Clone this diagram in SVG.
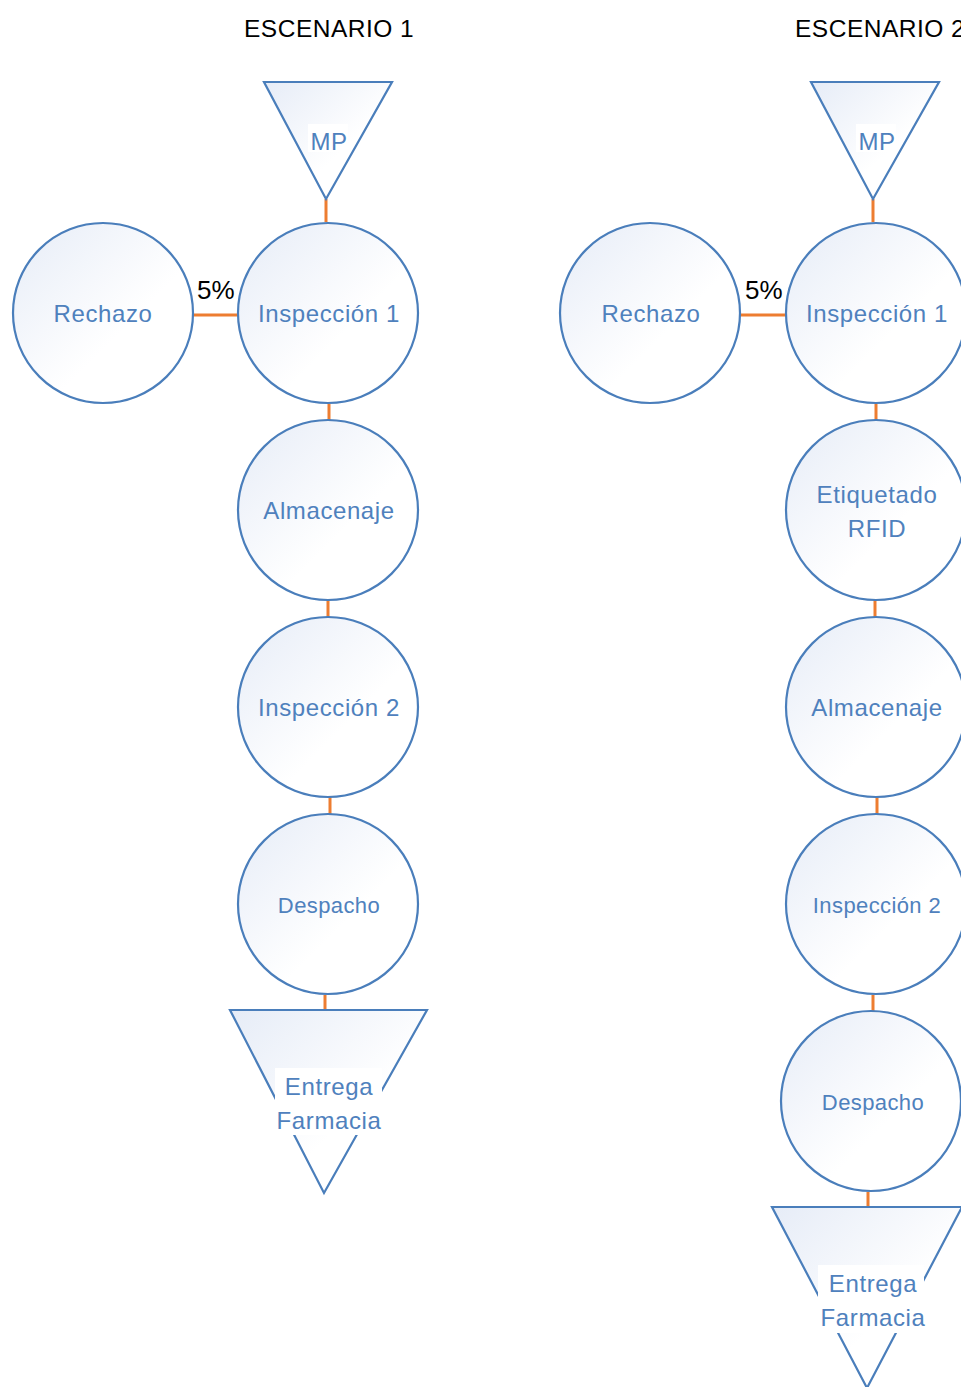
<svg xmlns="http://www.w3.org/2000/svg" width="961" height="1387" viewBox="0 0 961 1387">
  <defs>
    <linearGradient id="shade" x1="0" y1="0" x2="1" y2="1">
      <stop offset="0" stop-color="#e6ecf7"/>
      <stop offset="0.6" stop-color="#ffffff"/>
      <stop offset="1" stop-color="#ffffff"/>
    </linearGradient>
    <style>
      .node { fill: url(#shade); stroke: #4a7ebb; stroke-width: 2.2; }
      .lbl { font-family: "Liberation Sans", Arial, sans-serif; font-size: 24px; fill: #4f81bd; text-anchor: middle; letter-spacing: 0.6px; }
      .sm { font-size: 22px; letter-spacing: 0.4px; }
      .title { font-family: "Liberation Sans", Arial, sans-serif; font-size: 24.5px; fill: #000; letter-spacing: 0.5px; }
      .pct { font-family: "Liberation Sans", Arial, sans-serif; font-size: 26px; fill: #000; }
      .link { stroke: #ed7d31; stroke-width: 3; fill: none; }
      .box { fill: #ffffff; }
    </style>
  </defs>
  <rect width="961" height="1387" fill="#ffffff"/>

  <!-- headings -->
  <text class="title" x="244" y="37">ESCENARIO 1</text>
  <text class="title" x="795" y="37">ESCENARIO 2</text>

  <!-- connectors -->
  <g id="connectors">
    <line class="link" x1="326" y1="199" x2="326" y2="222"/>
    <line class="link" x1="193" y1="315" x2="238" y2="315"/>
    <line class="link" x1="329" y1="404" x2="329" y2="420"/>
    <line class="link" x1="328" y1="600" x2="328" y2="617"/>
    <line class="link" x1="330" y1="797" x2="330" y2="814"/>
    <line class="link" x1="325" y1="995" x2="325" y2="1010"/>

    <line class="link" x1="873" y1="199" x2="873" y2="222"/>
    <line class="link" x1="740" y1="315" x2="786" y2="315"/>
    <line class="link" x1="876" y1="404" x2="876" y2="420"/>
    <line class="link" x1="875" y1="600" x2="875" y2="617"/>
    <line class="link" x1="877" y1="797" x2="877" y2="814"/>
    <line class="link" x1="873" y1="995" x2="873" y2="1011"/>
    <line class="link" x1="868" y1="1192" x2="868" y2="1207"/>

    <text class="pct" x="197" y="299">5%</text>
    <text class="pct" x="745" y="299">5%</text>
  </g>

  <!-- scenario 1 -->
  <g id="s1-mp">
    <polygon class="node" points="264,82 392,82 326,199"/>
    <rect class="box" x="308" y="124" width="40" height="28"/>
    <text class="lbl" x="329" y="150">MP</text>
  </g>
  <g id="s1-rechazo">
    <circle class="node" cx="103" cy="313" r="90"/>
    <text class="lbl" x="103" y="322">Rechazo</text>
  </g>
  <g id="s1-inspeccion1">
    <circle class="node" cx="328" cy="313" r="90"/>
    <text class="lbl" x="329" y="322">Inspección 1</text>
  </g>
  <g id="s1-almacenaje">
    <circle class="node" cx="328" cy="510" r="90"/>
    <text class="lbl" x="329" y="519">Almacenaje</text>
  </g>
  <g id="s1-inspeccion2">
    <circle class="node" cx="328" cy="707" r="90"/>
    <text class="lbl" x="329" y="716">Inspección 2</text>
  </g>
  <g id="s1-despacho">
    <circle class="node" cx="328" cy="904" r="90"/>
    <text class="lbl sm" x="329" y="913">Despacho</text>
  </g>
  <g id="s1-entrega">
    <polygon class="node" points="230,1010 427,1010 324,1193"/>
    <rect class="box" x="275" y="1068" width="107" height="67"/>
    <text class="lbl" x="329" y="1095">Entrega</text>
    <text class="lbl" x="329" y="1129">Farmacia</text>
  </g>

  <!-- scenario 2 -->
  <g id="s2-mp">
    <polygon class="node" points="811,82 939,82 873,199"/>
    <rect class="box" x="856" y="124" width="40" height="28"/>
    <text class="lbl" x="877" y="150">MP</text>
  </g>
  <g id="s2-rechazo">
    <circle class="node" cx="650" cy="313" r="90"/>
    <text class="lbl" x="651" y="322">Rechazo</text>
  </g>
  <g id="s2-inspeccion1">
    <circle class="node" cx="876" cy="313" r="90"/>
    <text class="lbl" x="877" y="322">Inspección 1</text>
  </g>
  <g id="s2-etiquetado">
    <circle class="node" cx="876" cy="510" r="90"/>
    <text class="lbl" x="877" y="503">Etiquetado</text>
    <text class="lbl" x="877" y="537">RFID</text>
  </g>
  <g id="s2-almacenaje">
    <circle class="node" cx="876" cy="707" r="90"/>
    <text class="lbl" x="877" y="716">Almacenaje</text>
  </g>
  <g id="s2-inspeccion2">
    <circle class="node" cx="876" cy="904" r="90"/>
    <text class="lbl sm" x="877" y="913">Inspección 2</text>
  </g>
  <g id="s2-despacho">
    <circle class="node" cx="871" cy="1101" r="90"/>
    <text class="lbl sm" x="873" y="1110">Despacho</text>
  </g>
  <g id="s2-entrega">
    <polygon class="node" points="772,1207 962,1207 867,1388"/>
    <rect class="box" x="818" y="1265" width="106" height="68"/>
    <text class="lbl" x="873" y="1292">Entrega</text>
    <text class="lbl" x="873" y="1326">Farmacia</text>
  </g>
</svg>
